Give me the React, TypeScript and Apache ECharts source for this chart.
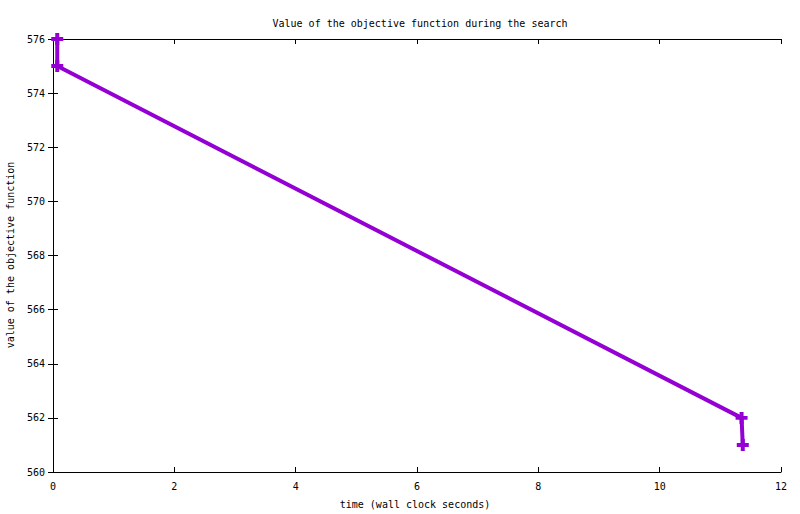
import React, { useEffect, useRef } from "react";
import * as echarts from "echarts";

const times = [0.07, 0.07, 11.35, 11.37];
const values = [576, 575, 562, 561];
const titleText = "Value of the objective function during the search";
const xLabel = "time (wall clock seconds)";
const yLabel = "value of the objective function";

const FONT = "'DejaVu Sans Mono', monospace";

export default function App() {
  const ref = useRef<HTMLDivElement>(null);
  useEffect(() => {
    if (!ref.current) return;
    const chart = echarts.init(ref.current, null, { renderer: "svg" });
    const axisLine = { show: true, lineStyle: { color: "#000", width: 1 } };
    const tick = { show: true, inside: true, length: 5, lineStyle: { color: "#000" } };
    chart.setOption({
      animation: false,
      backgroundColor: "#fff",
      title: {
        text: titleText,
        left: 415,
        top: 13,
        textAlign: "center",
        textStyle: { fontFamily: FONT, fontSize: 10, fontWeight: "normal", color: "#000" },
      },
      grid: { left: 53, right: 19, top: 39, bottom: 42 },
      xAxis: [
        {
          type: "value",
          min: 0,
          max: 12,
          interval: 2,
          axisLine,
          axisTick: tick,
          splitLine: { show: false },
          axisLabel: { fontFamily: FONT, fontSize: 10, color: "#000", margin: 9 },
        },
        {
          type: "value",
          position: "top",
          min: 0,
          max: 12,
          interval: 2,
          axisLine,
          axisTick: tick,
          splitLine: { show: false },
          axisLabel: { show: false },
        },
      ],
      yAxis: [
        {
          type: "value",
          min: 560,
          max: 576,
          interval: 2,
          axisLine,
          axisTick: tick,
          splitLine: { show: false },
          axisLabel: { fontFamily: FONT, fontSize: 10, color: "#000", margin: 8 },
        },
        {
          type: "value",
          position: "right",
          min: 560,
          max: 576,
          interval: 2,
          axisLine,
          axisTick: tick,
          splitLine: { show: false },
          axisLabel: { show: false },
        },
      ],
      graphic: [
        {
          type: "text",
          x: 415,
          y: 504,
          style: {
            text: xLabel,
            font: `10px ${FONT}`,
            fill: "#000",
            align: "center",
            verticalAlign: "middle",
          },
        },
        {
          type: "text",
          x: 10,
          y: 255,
          rotation: Math.PI / 2,
          style: {
            text: yLabel,
            font: `10px ${FONT}`,
            fill: "#000",
            align: "center",
            verticalAlign: "middle",
          },
        },
      ],
      series: [
        {
          type: "line",
          data: times.map((t, i) => [t, values[i]]),
          symbol: "path://M4,0H8V4H12V8H8V12H4V8H0V4H4Z",
          symbolSize: 12,
          showAllSymbol: true,
          lineStyle: { color: "#9400D3", width: 4 },
          itemStyle: { color: "#9400D3" },
        },
      ],
    });
    return () => chart.dispose();
  }, []);
  return <div ref={ref} style={{ width: 800, height: 514, position: "absolute", left: 0, top: 0 }} />;
}
